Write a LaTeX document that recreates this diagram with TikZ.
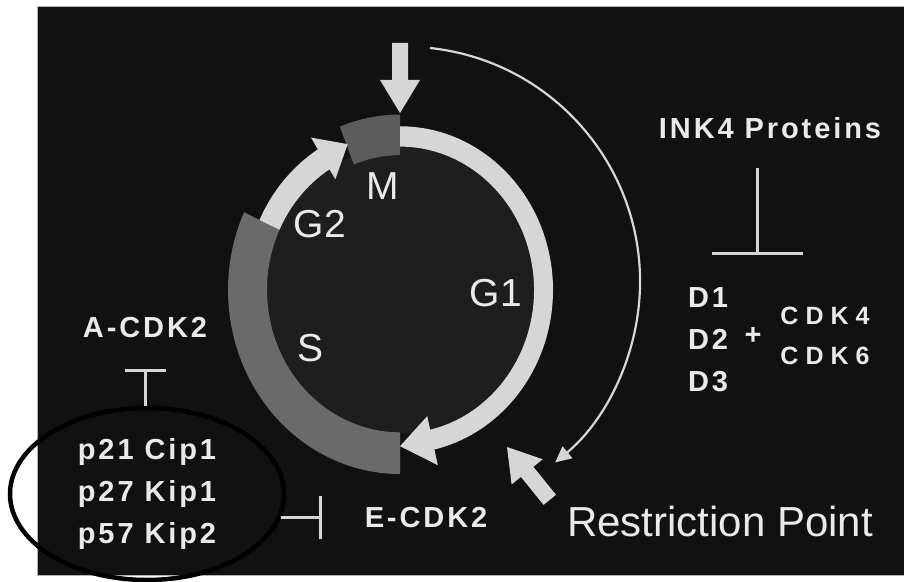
\documentclass[tikz,border=0pt]{standalone}
\usepackage{fontspec}
\setmainfont{Liberation Sans}
\newfontfamily\lblfont[LetterSpace=10]{Liberation Sans}
\newfontfamily\cdkfont[LetterSpace=28]{Liberation Sans}
\usepackage{tikz}
\usetikzlibrary{arrows.meta, shapes.geometric}
\definecolor{night}{HTML}{111111}
\definecolor{diskgray}{HTML}{1E1E1E}
\definecolor{chalk}{HTML}{D6D6D6}
\definecolor{slate}{HTML}{6A6A6A}
\definecolor{mgray}{HTML}{5C5C5C}
\definecolor{txt}{HTML}{EAEAEA}

\begin{document}
\begin{tikzpicture}[x=1pt, y=1pt,
    phase/.style={text=txt, font=\fontsize{39}{39}\selectfont, inner sep=0pt},
    lbl/.style={text=txt, font=\lblfont\bfseries\fontsize{29}{42}\selectfont, align=left, inner sep=3pt},
    inhib/.style={draw=chalk, line width=3pt, -{Bar[width=#1]}}]
  \useasboundingbox (0,0) rectangle (904,581);
  \fill[white] (0,0) rectangle (904,581);
  \filldraw[fill=night, draw=gray!60, line width=1pt] (37,6) rectangle (904,574);
  % the cycle
  \begin{scope}[shift={(400,291)}, yscale=1.07]
    \fill[diskgray] (0,0) circle[radius=134];
    \fill[slate] (155:133) -- (155:172) arc[start angle=155, end angle=270, radius=172]
      -- (270:133) arc[start angle=270, end angle=155, radius=133] -- cycle;
    \fill[mgray] (90:126) -- (90:164) arc[start angle=90, end angle=111.5, radius=164]
      -- (111.5:126) arc[start angle=111.5, end angle=90, radius=126] -- cycle;
    \fill[chalk] (155:133) -- (155:155) arc[start angle=155, end angle=122, radius=155]
      -- (122:168) -- (111:146) -- (122:122) -- (122:133)
      arc[start angle=122, end angle=155, radius=133] -- cycle;
    \fill[chalk] (90:134) -- (90:153) arc[start angle=90, end angle=-77, radius=153]
      -- (-77:168) -- (-90:146) -- (-77:121) -- (-77:134)
      arc[start angle=-77, end angle=90, radius=134] -- cycle;
  \end{scope}
  % fat arrows
  \begin{scope}[shift={(400,468)}, rotate=-90]
    \fill[chalk] (0,0) -- (-33,20) -- (-33,8) -- (-70,8) -- (-70,-8) -- (-33,-8) -- (-33,-20) -- cycle;
  \end{scope}
  \begin{scope}[shift={(507,134)}, rotate=129]
    \fill[chalk] (0,0) -- (-32,20) -- (-32,8) -- (-68,8) -- (-68,-8) -- (-32,-8) -- (-32,-20) -- cycle;
  \end{scope}
  \coordinate (arcfrom) at (430,533);
  \draw[chalk, line width=2.2pt, -{Triangle[width=15pt,length=16pt]}]
    (arcfrom) arc[start angle=83.9, end angle=-50.3, radius=235];

  \node[phase] (gtwo) at (320,357) {G2};
  \node[phase] (mph) at (383,395) {M};
  \node[phase] (gone) at (496,288) {G1};
  \node[phase] (sph) at (311,233) {S};
  \node[phase, font=\fontsize{42}{42}\selectfont] (rp) at (720,60) {Restriction Point};

  \node[lbl] (acdk) at (145,253) {A-CDK2};
  \node[lbl, ellipse, draw=black, line width=4.5pt, minimum width=274pt, minimum height=172pt,
    inner sep=0pt] (cki) at (147,87) {p21 Cip1\\p27 Kip1\\p57 Kip2};
  \node[lbl] (ecdk) at (426,63) {E-CDK2};
  \node[lbl] (ink) at (770,453) {INK4 Proteins};
  \node[lbl] (dgrp) at (708,241) {D1\\D2\\D3};
  \node[lbl] (plus) at (753,245) {+};
  \node[lbl, font=\cdkfont\bfseries\fontsize{25}{40}\selectfont] (cdk) at (825,245) {CDK4\\CDK6};

  \draw[inhib=41pt, shorten >=28pt] (cki.north -| acdk) -- (acdk.south);
  \draw[inhib=43pt, shorten >=40pt] (cki.-10) -- (cki.-10 -| ecdk.west);
  \coordinate (inkx) at ([xshift=-13pt]ink.south);
  \draw[inhib=91pt, shorten <=26pt, shorten >=30pt] (inkx) -- (inkx |- dgrp.north);
\end{tikzpicture}
\end{document}
